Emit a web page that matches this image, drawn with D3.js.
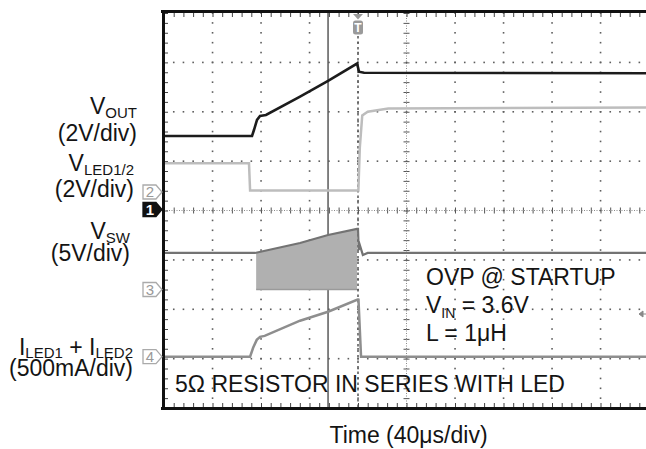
<!DOCTYPE html>
<html><head><meta charset="utf-8">
<script src="https://cdn.jsdelivr.net/npm/d3@7/dist/d3.min.js"></script>
<style>
body{margin:0;background:#fff}
svg{display:block}
text{font-family:"Liberation Sans",Arial,Helvetica,sans-serif;fill:#141414}
</style>
</head><body>
<svg id="c" width="646" height="449"></svg>
<script>
// ---------------- data (time in µs, relative to trigger) ----------------
const voutTime  = [-160, -87.4, -85.8, -83.3, -80.8, -78.4, -75.9, -47.8, -24.7, -0.8, 0, 0.8, 5, 240];
const voutVolts = [3.02, 3.02, 3.26, 3.67, 3.83, 3.85, 3.87, 4.61, 5.25, 5.95, 5.8, 5.62, 5.58, 5.56];

const vledTime  = [-160, -89.9, -89, 0.3, 1.5, 3.5, 8, 25, 240];
const vledVolts = [1.16, 1.16, 0.06, 0.06, 1.8, 3.1, 3.25, 3.38, 3.42];

const vswTime   = [-160, -85, -47.8, -24.7, -0.8, 0, 0.6, 1.5, 4, 8, 240];
const vswVolts  = [3.7, 3.7, 4.71, 5.52, 6.13, 6.13, 4.0, 4.5, 3.5, 3.7, 3.7];

const swBurstTime = [-84, -47.8, -24.7, -0.8];
const swBurstHigh = [3.7, 4.71, 5.52, 6.13];
const swBurstLow  = [0, 0, 0, 0];

const iledTime  = [-160, -89, -86.5, -83.5, -80.8, -77, -47.8, -24.7, -0.8, 0.4, 2.5, 240];
const iledMilliA= [0, 0, 90, 170, 200, 210, 364, 455, 575, 575, 0, 0];

const cursorTime = -24.7;
const triggerTime = 0;

const labelLines = [
  ["V", "OUT", "(2V/div)"],
  ["V", "LED1/2", "(2V/div)"],
  ["V", "SW", "(5V/div)"]
];
const noteLines = ["OVP @ STARTUP", "= 3.6V", "L = 1μH"];
const footNote = "5Ω RESISTOR IN SERIES WITH LED";
const xTitle = "Time (40μs/div)";
const channelNames = ["1", "2", "3", "4"];

// ---------------- layout ----------------
const svg = d3.select("#c");
const L = 164, R = 649, T = 13, B = 408;
const x = d3.scaleLinear().domain([-160, 240]).range([L, R]);
const y = d3.scaleLinear().domain([-4, 4]).range([B, T]);

const ch = {
  vout: {offset: 0, perDiv: 2},
  vled: {offset: 0.375, perDiv: 2},
  vsw:  {offset: -1.6, perDiv: 5},
  iled: {offset: -2.96, perDiv: 500}
};
const yc = (c, v) => y(c.offset + v / c.perDiv);

const minorT = d3.range(-160, 240.01, 8);
const minorY = d3.range(-4, 4.001, 0.2);
const majorT = [-120, -80, -40, 0, 80, 120, 160, 200];
const majorY = [-3, -2, -1, 1, 2, 3];

// grid dots
const g = svg.append("g");
majorT.forEach(t => {
  g.selectAll(null).data(minorY).enter().append("rect")
    .attr("x", x(t) - 0.75).attr("y", d => y(d) - 0.75)
    .attr("width", 1.6).attr("height", 1.6).attr("fill", "#5e5e5e");
});
majorY.forEach(v => {
  g.selectAll(null).data(minorT).enter().append("rect")
    .attr("x", d => x(d) - 0.75).attr("y", y(v) - 0.75)
    .attr("width", 1.6).attr("height", 1.6).attr("fill", "#5e5e5e");
});

// center axes
const cx = x(40), cy = y(0);
g.append("line").attr("x1", L).attr("x2", R).attr("y1", cy).attr("y2", cy)
  .attr("stroke", "#8a8a8a").attr("stroke-width", 1).attr("stroke-dasharray", "1,1.5");
g.append("line").attr("x1", cx).attr("x2", cx).attr("y1", T).attr("y2", B)
  .attr("stroke", "#8a8a8a").attr("stroke-width", 1).attr("stroke-dasharray", "1,1.5");
const axH = d3.axisBottom(x).tickValues(minorT).tickSize(3).tickFormat("");
const axH2 = d3.axisTop(x).tickValues(minorT).tickSize(3).tickFormat("");
g.append("g").attr("transform", `translate(0,${cy})`).call(axH).call(s => s.select(".domain").remove());
g.append("g").attr("transform", `translate(0,${cy})`).call(axH2).call(s => s.select(".domain").remove());
const axV = d3.axisLeft(y).tickValues(minorY).tickSize(3).tickFormat("");
const axV2 = d3.axisRight(y).tickValues(minorY).tickSize(3).tickFormat("");
g.append("g").attr("transform", `translate(${cx},0)`).call(axV).call(s => s.select(".domain").remove());
g.append("g").attr("transform", `translate(${cx},0)`).call(axV2).call(s => s.select(".domain").remove());
g.selectAll(".tick line").attr("stroke", "#555");

// border ticks
const bt = svg.append("g");
bt.append("g").attr("transform", `translate(0,${T})`)
  .call(d3.axisBottom(x).tickValues(minorT).tickSize(4).tickFormat("")).call(s => s.select(".domain").remove());
bt.append("g").attr("transform", `translate(0,${B - 1})`)
  .call(d3.axisTop(x).tickValues(minorT).tickSize(4).tickFormat("")).call(s => s.select(".domain").remove());
bt.append("g").attr("transform", `translate(${L},0)`)
  .call(d3.axisRight(y).tickValues(minorY).tickSize(4).tickFormat("")).call(s => s.select(".domain").remove());
bt.selectAll(".tick line").attr("stroke", "#444");

// cursor & trigger lines
svg.append("line").attr("x1", x(cursorTime)).attr("x2", x(cursorTime)).attr("y1", T).attr("y2", B)
  .attr("stroke", "#5a5a5a").attr("stroke-width", 1.5);
svg.append("line").attr("x1", x(triggerTime)).attr("x2", x(triggerTime)).attr("y1", 36).attr("y2", B)
  .attr("stroke", "#555").attr("stroke-width", 1.5).attr("stroke-dasharray", "2.5,3");

// switching burst
const burst = swBurstTime.map((t, i) => [t, swBurstHigh[i], swBurstLow[i]]);
svg.append("path").datum(burst)
  .attr("d", d3.area().x(d => x(d[0])).y0(d => yc(ch.vsw, d[2])).y1(d => yc(ch.vsw, d[1])))
  .attr("fill", "#b0b0b0");
svg.append("path").datum(burst)
  .attr("d", d3.line().x(d => x(d[0])).y(d => yc(ch.vsw, d[2])))
  .attr("fill", "none").attr("stroke", "#9a9a9a").attr("stroke-width", 1.5);

// traces
const line = c => d3.line().x(d => x(d[0])).y(d => yc(c, d[1]));
const zip = (a, b) => a.map((v, i) => [v, b[i]]);
svg.append("path").datum(zip(vledTime, vledVolts)).attr("d", line(ch.vled))
  .attr("fill", "none").attr("stroke", "#bdbdbd").attr("stroke-width", 2.5);
svg.append("path").datum(zip(iledTime, iledMilliA)).attr("d", line(ch.iled))
  .attr("fill", "none").attr("stroke", "#8e8e8e").attr("stroke-width", 2.5);
svg.append("path").datum(zip(vswTime, vswVolts)).attr("d", line(ch.vsw))
  .attr("fill", "none").attr("stroke", "#737373").attr("stroke-width", 2.2);
svg.append("path").datum(zip(voutTime, voutVolts)).attr("d", line(ch.vout))
  .attr("fill", "none").attr("stroke", "#1c1c1c").attr("stroke-width", 2.6);

// frame
svg.append("line").attr("x1", L - 3).attr("x2", 646).attr("y1", 11.5).attr("y2", 11.5).attr("stroke", "#111").attr("stroke-width", 3);
svg.append("line").attr("x1", L - 3).attr("x2", 646).attr("y1", B + 0.5).attr("y2", B + 0.5).attr("stroke", "#111").attr("stroke-width", 3);
svg.append("line").attr("x1", L - 0.5).attr("x2", L - 0.5).attr("y1", 10).attr("y2", B + 2).attr("stroke", "#111").attr("stroke-width", 3);

// trigger T marker
const tx = x(triggerTime);
svg.append("path").attr("d", `M${tx - 5},14 L${tx + 5},14 L${tx},19.5 Z`).attr("fill", "#9a9a9a");
svg.append("rect").attr("x", tx - 5).attr("y", 20.5).attr("width", 10).attr("height", 14).attr("rx", 2.5).attr("fill", "#9a9a9a");
svg.append("text").attr("x", tx).attr("y", 32).attr("text-anchor", "middle").attr("font-size", 12)
  .attr("font-weight", "bold").style("fill", "#fff").text("T");

// trigger level marker on right
svg.append("path").attr("d", "M639,314 L643,311 L643,317 Z M643,314 L646,314").attr("fill", "#888").attr("stroke", "#888").attr("stroke-width", 1);

// channel markers
const markerY = [y(ch.vout.offset) - 1, y(ch.vled.offset), y(ch.vsw.offset), y(ch.iled.offset)];
channelNames.forEach((n, i) => {
  const my = markerY[i], x0 = 143;
  const filled = i === 0;
  svg.append("path").attr("d", `M${x0},${my - 7} H${x0 + 13} L${x0 + 19},${my} L${x0 + 13},${my + 7} H${x0} Z`)
    .attr("fill", filled ? "#111" : "#fff").attr("stroke", filled ? "#111" : "#aaa").attr("stroke-width", 1.3);
  svg.append("text").attr("x", x0 + 7).attr("y", my + 5.5).attr("text-anchor", "middle")
    .attr("font-size", 15).attr("font-weight", filled ? "bold" : "normal")
    .style("fill", filled ? "#fff" : "#999").text(n);
});

// left labels
const FS = 23, SUB = 15;
const labPos = [[137, 114, 141], [134, 171, 197], [130, 239, 261]];
labelLines.forEach((l, i) => {
  const [rx, y1, y2] = labPos[i];
  const t = svg.append("text").attr("x", rx).attr("y", y1).attr("text-anchor", "end").attr("font-size", FS);
  t.append("tspan").text(l[0]);
  t.append("tspan").attr("font-size", SUB).attr("dy", 4).text(l[1]);
  svg.append("text").attr("x", rx).attr("y", y2).attr("text-anchor", "end").attr("font-size", FS).text(l[2]);
});
{
  const t = svg.append("text").attr("x", 133).attr("y", 355).attr("text-anchor", "end").attr("font-size", FS);
  t.append("tspan").text("I");
  t.append("tspan").attr("font-size", SUB).attr("dy", 3).text("LED1");
  t.append("tspan").attr("dy", -3).text(" + I");
  t.append("tspan").attr("font-size", SUB).attr("dy", 3).text("LED2");
  svg.append("text").attr("x", 133).attr("y", 376).attr("text-anchor", "end").attr("font-size", FS).text("(500mA/div)");
}

// annotation
svg.append("text").attr("x", 426).attr("y", 285).attr("font-size", FS).text(noteLines[0]);
{
  const t = svg.append("text").attr("x", 426).attr("y", 313).attr("font-size", FS);
  t.append("tspan").text("V");
  t.append("tspan").attr("font-size", SUB - 1).attr("dy", 5).text("IN");
  t.append("tspan").attr("dy", -5).text(" " + noteLines[1]);
}
svg.append("text").attr("x", 426).attr("y", 341).attr("font-size", FS).text(noteLines[2]);
svg.append("text").attr("x", 175).attr("y", 392).attr("font-size", FS).text(footNote);

// x title
svg.append("text").attr("x", 408.5).attr("y", 443).attr("text-anchor", "middle").attr("font-size", FS).text(xTitle);
</script>
</body></html>
